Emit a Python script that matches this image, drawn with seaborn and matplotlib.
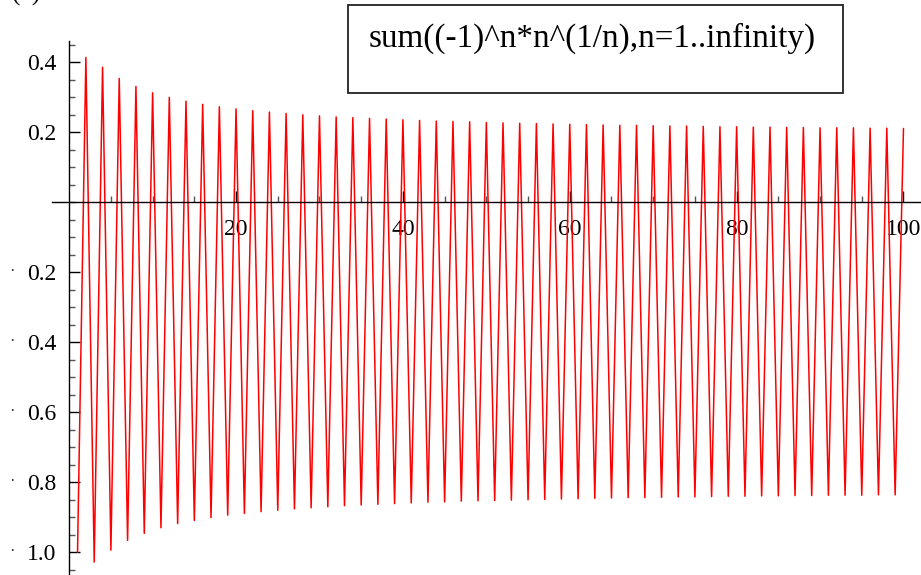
import numpy as np
import pandas as pd
import matplotlib
matplotlib.use("Agg")
import matplotlib.pyplot as plt
import matplotlib.transforms as mtransforms
from matplotlib.patches import Rectangle
import seaborn as sns

# Somas parciais (n = 1..100)
termos_n = list(range(1, 101))
somas_parciais = [
    -1.000, 0.414, -1.028, 0.386, -0.994, 0.354, -0.966, 0.331, -0.946, 0.313,
    -0.930, 0.300, -0.918, 0.289, -0.909, 0.280, -0.901, 0.273, -0.894, 0.267,
    -0.889, 0.262, -0.884, 0.258, -0.880, 0.254, -0.876, 0.250, -0.873, 0.247,
    -0.870, 0.244, -0.867, 0.242, -0.865, 0.240, -0.863, 0.238, -0.861, 0.236,
    -0.859, 0.234, -0.857, 0.232, -0.856, 0.231, -0.854, 0.230, -0.853, 0.228,
    -0.852, 0.227, -0.851, 0.226, -0.850, 0.225, -0.849, 0.224, -0.848, 0.223,
    -0.847, 0.222, -0.846, 0.221, -0.845, 0.220, -0.844, 0.220, -0.844, 0.219,
    -0.843, 0.218, -0.842, 0.218, -0.842, 0.217, -0.841, 0.216, -0.840, 0.216,
    -0.840, 0.215, -0.839, 0.215, -0.839, 0.214, -0.838, 0.214, -0.838, 0.213,
    -0.837, 0.213, -0.837, 0.213, -0.837, 0.212, -0.836, 0.212, -0.836, 0.211,
]

# Ticks e rótulos
x_ticks = [20, 40, 60, 80, 100]
x_labels = ['20', '40', '60', '80', '100']
y_ticks = [0.4, 0.2, -0.2, -0.4, -0.6, -0.8, -1.0]
y_labels = ['0.4', '0.2', '0.2', '0.4', '0.6', '0.8', '1.0']

titulo_caixa = 'sum((-1)^n*n^(1/n),n=1..infinity)'

df = pd.DataFrame({'n': termos_n, 'soma': somas_parciais})

sns.set_style('white')
plt.rcParams['font.family'] = ['Liberation Serif', 'DejaVu Serif']
plt.rcParams['text.color'] = 'black'

W, H = 921, 575
fig = plt.figure(figsize=(W / 100, H / 100), dpi=100)

# Eixos posicionados em pixels
left_px, top_px = 52, 41
ax = fig.add_axes([left_px / W, 0, (W - left_px) / W, (H - top_px) / H])
ax.set_facecolor('none')

sns.lineplot(data=df, x='n', y='soma', color='red', linewidth=1.1, ax=ax)

ax.set_xlim(-2.06, 102.1)
ax.set_ylim(-1.065, 0.461)

# Eixos cruzando na origem (estilo Maple)
for lado in ['top', 'right']:
    ax.spines[lado].set_visible(False)
for lado in ['left', 'bottom']:
    ax.spines[lado].set_position(('data', 0))
    ax.spines[lado].set_color('black')
    ax.spines[lado].set_linewidth(1.0)

ax.set_xticks(x_ticks)
ax.set_xticklabels(x_labels)
ax.set_xticks(np.arange(5, 101, 5), minor=True)
ax.set_yticks(y_ticks)
ax.set_yticklabels(y_labels)
ax.set_yticks(np.arange(-1.05, 0.46, 0.05), minor=True)

ax.tick_params(which='both', bottom=True, left=True, top=False, right=False)
ax.tick_params(which='major', direction='in', length=8, width=1.0,
               color='black', labelsize=17, labelcolor='black')
ax.tick_params(axis='x', which='major', pad=12)
ax.tick_params(axis='y', which='major', pad=9)
ax.tick_params(which='minor', direction='in', length=4.3, width=1.0,
               color='#555555')
ax.set_xlabel('')
ax.set_ylabel('')

# Sinal de menos como ponto, à esquerda dos rótulos negativos
trans = mtransforms.blended_transform_factory(fig.transFigure, ax.transData)
for v in y_ticks:
    if v < 0:
        ax.text(12 / W, v, '\u00b7', transform=trans, ha='center',
                va='center', fontsize=12, color='#333333')

# Caixa com a expressão
caixa = Rectangle((348 / W, 1 - 93 / H), (843 - 348) / W, (93 - 5) / H,
                  transform=fig.transFigure, fill=False,
                  edgecolor='#222222', linewidth=1.3)
fig.patches.append(caixa)
fig.text(369 / W, 1 - 38 / H, titulo_caixa, ha='left', va='center',
         fontsize=23.9, color='black')

# Rótulo do painel, parcialmente cortado como no original
fig.text(12 / W, 1 - 6 / H, '(b)', ha='left', va='bottom', fontsize=18)

fig.savefig('out.png', dpi=100)
